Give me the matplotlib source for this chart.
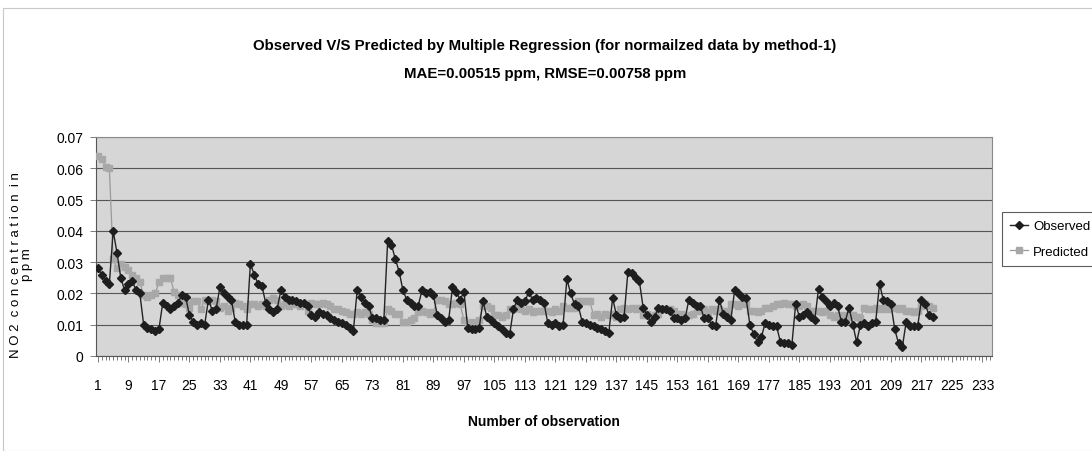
import matplotlib
matplotlib.use("Agg")
import matplotlib.pyplot as plt
from matplotlib.ticker import MultipleLocator, FixedLocator
from matplotlib.patches import Rectangle

observed = [
    0.028, 0.026, 0.024, 0.023, 0.040, 0.033, 0.025, 0.021, 0.023, 0.024,
    0.021, 0.020, 0.010, 0.009, 0.0085, 0.008, 0.0085, 0.017, 0.016, 0.015,
    0.016, 0.017, 0.0195, 0.019, 0.013, 0.011, 0.010, 0.0105, 0.010, 0.018,
    0.0145, 0.015, 0.022, 0.020, 0.019, 0.018, 0.011, 0.010, 0.010, 0.010,
    0.0295, 0.026, 0.023, 0.0225, 0.017, 0.015, 0.014, 0.015, 0.021, 0.019,
    0.018, 0.018, 0.0175, 0.017, 0.017, 0.016, 0.013, 0.0125, 0.014, 0.0135,
    0.013, 0.012, 0.0115, 0.011, 0.0105, 0.010, 0.009, 0.008, 0.021, 0.019,
    0.017, 0.016, 0.012, 0.012, 0.0115, 0.0115, 0.0368, 0.0355, 0.031, 0.027,
    0.021, 0.018, 0.017, 0.016, 0.016, 0.021, 0.020, 0.0205, 0.0195, 0.013,
    0.012, 0.011, 0.0115, 0.022, 0.0205, 0.018, 0.0205, 0.009, 0.0085, 0.0085,
    0.009, 0.0175, 0.0125, 0.0115, 0.0105, 0.0095, 0.0085, 0.0075, 0.007, 0.015,
    0.018, 0.017, 0.0175, 0.0205, 0.018, 0.0185, 0.018, 0.017, 0.0105, 0.010,
    0.0105, 0.0095, 0.010, 0.0245, 0.020, 0.0165, 0.016, 0.011, 0.0105, 0.010,
    0.0095, 0.009, 0.0085, 0.008, 0.0075, 0.0185, 0.013, 0.012, 0.0125, 0.0268,
    0.0265, 0.025, 0.024, 0.0155, 0.013, 0.011, 0.0125, 0.0155, 0.015, 0.015,
    0.0145, 0.012, 0.012, 0.0115, 0.012, 0.018, 0.017, 0.016, 0.016, 0.012,
    0.012, 0.010, 0.0095, 0.018, 0.0135, 0.0125, 0.0115, 0.021, 0.020, 0.019,
    0.0185, 0.010, 0.007, 0.0045, 0.006, 0.0105, 0.010, 0.0095, 0.0095, 0.0045,
    0.004, 0.004, 0.0035, 0.0165, 0.0125, 0.013, 0.014, 0.0125, 0.0115, 0.0215,
    0.019, 0.0175, 0.016, 0.017, 0.016, 0.011, 0.011, 0.0155, 0.010, 0.0045,
    0.010, 0.0105, 0.0095, 0.0105, 0.011, 0.023, 0.018, 0.0175, 0.0165, 0.0085,
    0.004, 0.003, 0.011, 0.0095, 0.0095, 0.0095, 0.018, 0.0165, 0.013, 0.0125,
]

predicted = [
    0.064, 0.063, 0.0605, 0.060, 0.031, 0.028, 0.0295, 0.0285, 0.0275, 0.026,
    0.025, 0.0235, 0.0195, 0.019, 0.0195, 0.020, 0.0235, 0.025, 0.025, 0.025,
    0.0205, 0.0195, 0.017, 0.0165, 0.0155, 0.0175, 0.0175, 0.015, 0.018, 0.0175,
    0.018, 0.0175, 0.0155, 0.016, 0.0145, 0.0155, 0.017, 0.0165, 0.016, 0.015,
    0.0165, 0.0165, 0.016, 0.0165, 0.016, 0.018, 0.0185, 0.018, 0.016, 0.0165,
    0.016, 0.017, 0.0165, 0.016, 0.0165, 0.0145, 0.017, 0.0165, 0.0165, 0.017,
    0.0165, 0.016, 0.015, 0.015, 0.0145, 0.014, 0.0135, 0.0135, 0.014, 0.0135,
    0.014, 0.0135, 0.0115, 0.0105, 0.0105, 0.0105, 0.015, 0.0145, 0.0135, 0.0135,
    0.011, 0.011, 0.0115, 0.012, 0.014, 0.0145, 0.014, 0.0135, 0.014, 0.018,
    0.018, 0.0175, 0.0165, 0.0165, 0.017, 0.0165, 0.0115, 0.0105, 0.011, 0.0105,
    0.0115, 0.016, 0.016, 0.0155, 0.013, 0.013, 0.0125, 0.013, 0.015, 0.015,
    0.0155, 0.015, 0.0145, 0.015, 0.014, 0.0145, 0.0145, 0.0145, 0.0145, 0.014,
    0.015, 0.0145, 0.016, 0.0155, 0.0155, 0.0155, 0.0175, 0.0175, 0.0175, 0.0175,
    0.013, 0.0135, 0.0125, 0.0135, 0.013, 0.0135, 0.0125, 0.015, 0.0155, 0.015,
    0.0155, 0.015, 0.0155, 0.013, 0.0135, 0.0125, 0.013, 0.0135, 0.015, 0.015,
    0.015, 0.0145, 0.0135, 0.0135, 0.0125, 0.013, 0.0135, 0.015, 0.0145, 0.015,
    0.014, 0.015, 0.0145, 0.015, 0.0145, 0.0145, 0.0165, 0.0165, 0.016, 0.0165,
    0.0165, 0.0145, 0.0145, 0.014, 0.0145, 0.0155, 0.0155, 0.016, 0.0165, 0.0165,
    0.017, 0.0165, 0.0165, 0.016, 0.016, 0.0165, 0.016, 0.0145, 0.0145, 0.0145,
    0.014, 0.0145, 0.013, 0.0125, 0.013, 0.0125, 0.013, 0.0125, 0.013, 0.0125,
    0.012, 0.0155, 0.015, 0.015, 0.0155, 0.015, 0.0155, 0.015, 0.0155, 0.0155,
    0.015, 0.0155, 0.0145, 0.0145, 0.014, 0.0145, 0.016, 0.0165, 0.016, 0.0155,
]

n_categories = 235
x_tick_labels = [str(v) for v in range(1, 234, 8)]
y_ticks = [0, 0.01, 0.02, 0.03, 0.04, 0.05, 0.06, 0.07]
y_tick_labels = ["0", "0.01", "0.02", "0.03", "0.04", "0.05", "0.06", "0.07"]

title_text = ("Observed V/S Predicted by Multiple Regression (for normailzed data by method-1)\n"
              "MAE=0.00515 ppm, RMSE=0.00758 ppm")

plt.rcParams["font.family"] = ["Liberation Sans", "DejaVu Sans"]

fig = plt.figure(figsize=(10.92, 4.52), dpi=100)
ax = fig.add_axes([96 / 1092, 1 - 357 / 452, (992 - 96) / 1092, (357 - 138) / 452])

ax.set_facecolor("#d6d6d6")
for s in ax.spines.values():
    s.set_color("#8a8a8a")
    s.set_linewidth(0.8)
ax.spines["left"].set_color("#555555")
ax.spines["bottom"].set_color("#555555")

xs = list(range(1, len(observed) + 1))
ax.plot(xs, predicted, color="#9a9a9a", lw=0.9, marker="s", ms=4.4,
        mfc="#a8a8a8", mec="#a8a8a8", label="Predicted", zorder=3)
ax.plot(xs, observed, color="#222222", lw=1.0, marker="D", ms=4.0,
        mfc="#1e1e1e", mec="#1e1e1e", label="Observed", zorder=4)

ax.set_xlim(0.5, n_categories + 0.5)
ax.set_ylim(0, 0.07)
ax.xaxis.set_major_locator(FixedLocator(list(range(1, 234, 8))))
ax.set_xticklabels(x_tick_labels)
ax.xaxis.set_minor_locator(MultipleLocator(1))
ax.set_yticks(y_ticks)
ax.set_yticklabels(y_tick_labels)
ax.grid(axis="y", color="#555555", lw=0.8)
ax.set_axisbelow(True)
ax.tick_params(axis="x", which="both", direction="out", length=4, width=0.6,
               color="#666666", labelsize=10, pad=12)
ax.tick_params(axis="y", which="both", direction="out", length=4, width=0.6,
               color="#666666", labelsize=10, pad=5)
ax.tick_params(axis="x", which="minor", length=3)

ax.set_xlabel("Number of observation", fontsize=10, fontweight="bold", labelpad=16)
ax.set_ylabel("N O 2  c o n c e n t r a t i o n  i n\np p m", fontsize=9.5,
              linespacing=0.9)
ax.yaxis.set_label_coords(-0.07, 0.42)

fig.text(545 / 1092, 1 - 60 / 452, title_text, ha="center", va="center",
         fontsize=10.8, fontweight="bold", linespacing=2.3)

handles, labels = ax.get_legend_handles_labels()
leg = fig.legend(handles[::-1], labels[::-1], loc="upper left",
                 bbox_to_anchor=(1002 / 1092, 1 - 213 / 452),
                 frameon=True, fancybox=False, fontsize=9.5, handlelength=1.4,
                 handletextpad=0.35, borderpad=0.6, borderaxespad=0.0,
                 labelspacing=1.0)
leg.get_frame().set_edgecolor("#333333")
leg.get_frame().set_linewidth(0.8)

fig.patches.append(Rectangle((3 / 1092, 0), 1.2, 1 - 9 / 452, transform=fig.transFigure,
                             fill=False, edgecolor="#c8c8c8", lw=0.8))

fig.savefig("out.png", dpi=100)
